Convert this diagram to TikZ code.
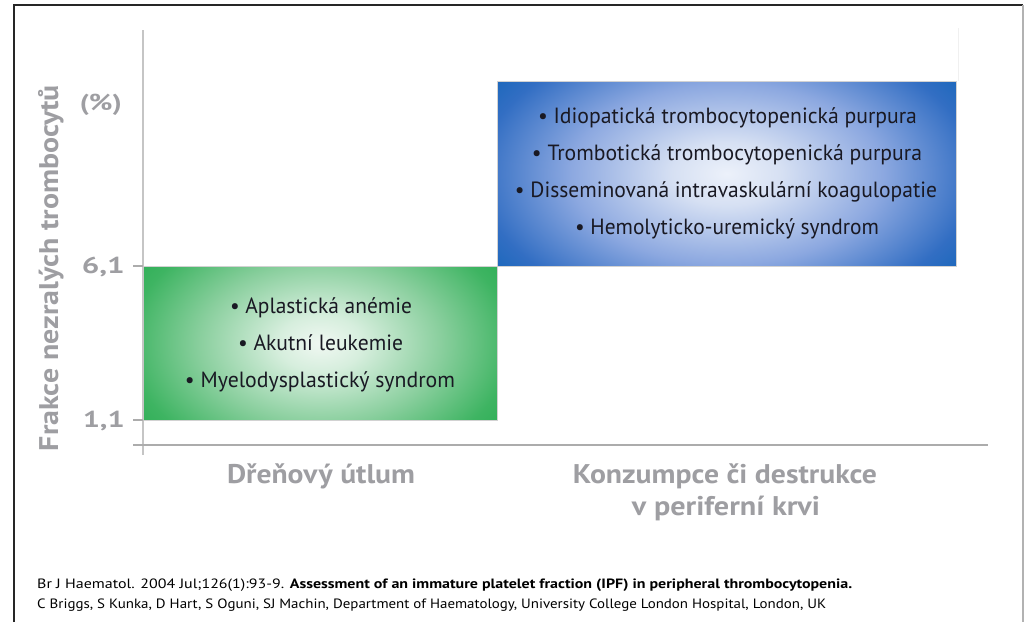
\documentclass[tikz,border=0pt]{standalone}
\usepackage{fontspec}
\usepackage{graphicx}
\setmainfont{PT Sans}
\definecolor{labgray}{RGB}{158,158,162}
\definecolor{axgray}{RGB}{172,172,172}
\definecolor{txt}{RGB}{25,25,35}
\definecolor{gA}{RGB}{240,248,242}
\definecolor{gB}{RGB}{214,238,221}
\definecolor{gC}{RGB}{138,207,158}
\definecolor{gD}{RGB}{62,180,98}
\definecolor{gE}{RGB}{28,168,72}
\definecolor{bA}{RGB}{236,241,250}
\definecolor{bB}{RGB}{214,224,243}
\definecolor{bC}{RGB}{140,168,224}
\definecolor{bD}{RGB}{50,110,195}
\definecolor{bE}{RGB}{0,96,178}
\pgfdeclareradialshading{greenglow}{\pgfpoint{0bp}{0bp}}{color(0bp)=(gA); color(6bp)=(gB); color(17bp)=(gC); color(27bp)=(gD); color(36bp)=(gE); color(50bp)=(gE)}
\pgfdeclareradialshading{blueglow}{\pgfpoint{0bp}{0bp}}{color(0bp)=(bA); color(6bp)=(bB); color(17bp)=(bC); color(27bp)=(bD); color(36bp)=(bE); color(50bp)=(bE)}
\newcommand{\fitw}[2]{\resizebox{#1}{\height}{#2}}
\tikzset{
  item/.style={text=txt, inner sep=0pt, anchor=base, font=\fontsize{22}{26}\selectfont},
  glabel/.style={text=labgray, inner sep=0pt, anchor=base, font=\fontsize{27}{32}\selectfont\bfseries},
  ticklab/.style={text=labgray, inner sep=0pt, anchor=base east, font=\fontsize{23}{28}\selectfont\bfseries},
  foot/.style={text=black, inner sep=0pt, anchor=base west, font=\fontsize{13.5}{16}\selectfont},
  axisline/.style={draw=axgray, line width=1.8pt},
  box/.style={draw=gray!35, line width=0.6pt, inner sep=0pt, anchor=north west},
  glow/.style={path picture={\shade[shading=#1] ([yshift=40pt]path picture bounding box.north west) rectangle ([yshift=-40pt]path picture bounding box.south east);}}
}
\begin{document}
\begin{tikzpicture}[x=1pt,y=-1pt]
\useasboundingbox (0,0) rectangle (1028,622);
% frame
\coordinate (ftl) at (13.5,5);
\coordinate (ftr) at (1023,5);
\coordinate (fbl) at (13.5,622);
\coordinate (fbr) at (1023,622);
\draw[black!85, line width=2pt] (fbl) -- (ftl) -- (ftr);
\draw[gray!60, line width=1.2pt] (ftr) -- (fbr);
% faint plot area edge
\coordinate (pa1) at (958,28);
\coordinate (pa2) at (958,81);
\draw[gray!12, line width=0.8pt] (pa1) -- (pa2);
% boxes
\node[box, glow=greenglow, minimum width=354pt, minimum height=154pt] (gbox) at (143,266) {};
\node[box, glow=blueglow, minimum width=459pt, minimum height=185pt] (bbox) at (497,81) {};
% axes
\coordinate (ytop) at (143,30);
\coordinate (ybot) at (143,455);
\coordinate (xl) at (133,445);
\coordinate (xr) at (988,445);
\coordinate (t6a) at (133,266);
\coordinate (t6b) at (143,266);
\coordinate (t1a) at (133,420);
\coordinate (t1b) at (143,420);
\draw[draw=axgray!70, line width=1.4pt] (ytop) -- (ybot);
\draw[axisline] (xl) -- (xr);
\draw[axisline, line width=1.4pt] (t6a) -- (t6b);
\draw[axisline, line width=1.4pt] (t1a) -- (t1b);
% tick labels
\node[ticklab] (pct) at (122,110) {\fitw{42pt}{(\%)}};
\node[ticklab] (l61) at (125,273) {\fitw{43pt}{6,1}};
\node[ticklab] (l11) at (125,427) {\fitw{42pt}{1,1}};
% y label
\node[glabel, rotate=90, anchor=base] (ylab) at (58,268) {\fitw{366pt}{Frakce nezralých trombocytů}};
% green items
\node[item] (g1) at (321,313) {\fitw{182pt}{• Aplastická anémie}};
\node[item] (g2) at (320.5,350) {\fitw{165pt}{• Akutní leukemie}};
\node[item] (g3) at (320,387) {\fitw{270pt}{• Myelodysplastický syndrom}};
% blue items
\node[item] (b1) at (727.5,123) {\fitw{379pt}{• Idiopatická trombocytopenická purpura}};
\node[item] (b2) at (727,160) {\fitw{390pt}{• Trombotická trombocytopenická purpura}};
\node[item] (b3) at (726,197) {\fitw{422pt}{• Disseminovaná intravaskulární koagulopatie}};
\node[item] (b4) at (727,234) {\fitw{304pt}{• Hemolyticko-uremický syndrom}};
% category labels
\node[glabel] (c1) at (321,483) {\fitw{188pt}{Dřeňový útlum}};
\node[glabel] (c2a) at (725,483) {\fitw{304pt}{Konzumpce či destrukce}};
\node[glabel] (c2b) at (726,515) {\fitw{188pt}{v periferní krvi}};
% footnote
\node[foot] (f1) at (37,588) {\fitw{815pt}{Br J Haematol. 2004 Jul;126(1):93-9. \textbf{Assessment of an immature platelet fraction (IPF) in peripheral thrombocytopenia.}}};
\node[foot] (f2) at (37,608) {\fitw{789pt}{C Briggs, S Kunka, D Hart, S Oguni, SJ Machin, Department of Haematology, University College London Hospital, London, UK}};
\end{tikzpicture}
\end{document}
